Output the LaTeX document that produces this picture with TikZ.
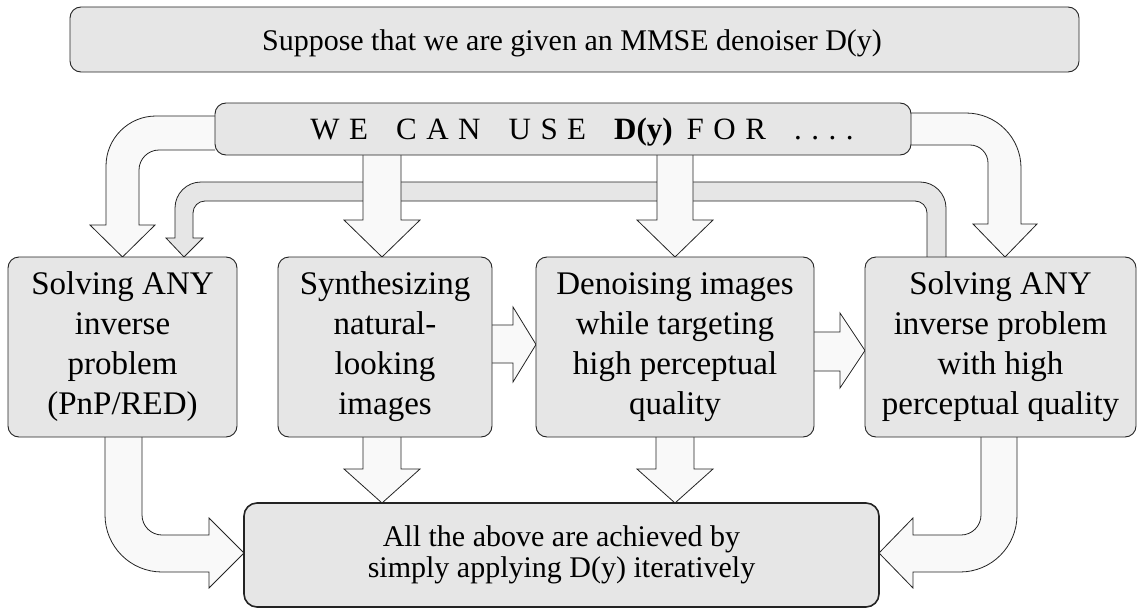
\documentclass[tikz,border=0pt]{standalone}
\usepackage{fontspec}
\setmainfont{Liberation Serif}
\definecolor{boxfill}{RGB}{230,230,230}
\definecolor{arrfill}{RGB}{249,249,249}
\definecolor{edge}{RGB}{35,35,35}
\newcommand{\lgap}{\hspace{9.5pt}}
\newcommand{\wgap}{\hspace{28pt}}
\begin{document}
\begin{tikzpicture}[x=1pt,y=-1pt,
  boxstyle/.style={draw=edge, line width=0.9pt, fill=boxfill, rounded corners=11pt, inner sep=0pt},
  blockarrow/.style={draw=edge, line width=0.8pt, fill=arrfill, line join=miter},
  greyarrow/.style={draw=edge, line width=0.8pt, fill=boxfill, line join=miter},
  boxtext/.style={align=center, font=\fontsize{33}{40}\selectfont}]
\useasboundingbox (0,0) rectangle (1137,610);

% grey feedback arrow (box 4 -> box 1), behind the vertical arrows
\draw[greyarrow] (946,257) -- (946,208) .. controls (946,193.65) and (934.35,182) .. (920,182)
  -- (201,182) .. controls (186.65,182) and (175,193.65) .. (175,208)
  -- (175,238) -- (166,238) -- (184,257) -- (203,238) -- (193,238)
  -- (193,213) .. controls (193,206.38) and (198.38,201) .. (205,201)
  -- (915,201) .. controls (921.62,201) and (927,206.38) .. (927,213) -- (927,257);

% arrows from "WE CAN USE" box
\draw[blockarrow] (363,155) -- (363,220) -- (344,220) -- (382,257) -- (420,220) -- (401,220) -- (401,155);
\draw[blockarrow] (657,155) -- (657,220) -- (637,220) -- (675,257) -- (713,220) -- (693,220) -- (693,155);
\draw[blockarrow] (215,116) -- (156,116) .. controls (128.4,116) and (106,138.4) .. (106,166)
  -- (106,225) -- (90,225) -- (122.5,257) -- (155,225) -- (139,225)
  -- (139,170) .. controls (139,159) and (148,150) .. (159,150) -- (215,150);
\draw[blockarrow] (911,113) -- (966,113) .. controls (996.4,113) and (1021,137.6) .. (1021,168)
  -- (1021,224) -- (1037,224) -- (1005,257) -- (973,224) -- (988,224)
  -- (988,163) .. controls (988,153.06) and (979.94,145) .. (970,145) -- (911,145);

% horizontal arrows between boxes
\draw[blockarrow] (492,325) -- (513,325) -- (513,307) -- (536,344.5) -- (513,382) -- (513,363) -- (492,363);
\draw[blockarrow] (814,332) -- (840,332) -- (840,313) -- (865,350.5) -- (840,388) -- (840,371) -- (814,371);

% arrows to the bottom box
\draw[blockarrow] (363,437) -- (363,469) -- (344,469) -- (382,503) -- (420,469) -- (401,469) -- (401,437);
\draw[blockarrow] (656,437) -- (656,469) -- (637,469) -- (675,503) -- (713,469) -- (694,469) -- (694,437);
\draw[blockarrow] (105,437) -- (105,515) .. controls (105,546.5) and (130.5,572) .. (162,572)
  -- (209,572) -- (209,588) -- (244,553) -- (209,518) -- (209,535)
  -- (162,535) .. controls (151,535) and (142,526) .. (142,515) -- (142,437);
\draw[blockarrow] (1017,437) -- (1017,515) .. controls (1017,546.5) and (991.5,572) .. (960,572)
  -- (913,572) -- (913,588) -- (879,553) -- (913,518) -- (913,535)
  -- (961,535) .. controls (972,535) and (981,526) .. (981,515) -- (981,437);

% boxes
\node[boxstyle, minimum width=1009pt, minimum height=65pt] (top) at (574.5,39.5) {};
\node[anchor=base, font=\fontsize{30}{36}\selectfont] (toptext) at (572,51) {Suppose that we are given an MMSE denoiser D(y)};

\node[boxstyle, minimum width=696pt, minimum height=52pt] (we) at (563,129) {};
\node[anchor=base, font=\fontsize{31}{36}\selectfont] (wetext) at (582,139)
  {W\lgap E\wgap C\lgap A\lgap N\wgap U\lgap S\lgap E\wgap \textbf{D(y)}\hspace{14pt}F\lgap O\lgap R\wgap .\lgap .\lgap .\lgap .};

\node[boxstyle, boxtext, minimum width=229pt, minimum height=180pt] (b1) at (122.5,347) {Solving ANY\\inverse\\problem\\(PnP/RED)};
\node[boxstyle, boxtext, minimum width=214pt, minimum height=180pt] (b2) at (385,347) {Synthesizing\\natural-\\looking\\images};
\node[boxstyle, boxtext, minimum width=278pt, minimum height=180pt] (b3) at (675,347) {Denoising images\\while targeting\\high perceptual\\quality};
\node[boxstyle, boxtext, minimum width=271pt, minimum height=180pt] (b4) at (1000.5,347) {Solving ANY\\inverse problem\\with high\\perceptual quality};

\node[boxstyle, line width=1.6pt, rounded corners=13pt, minimum width=635pt, minimum height=104pt,
  align=center, font=\fontsize{30}{31}\selectfont] (bot) at (561.5,555)
  {All the above are achieved by\\simply applying D(y) iteratively};
\end{tikzpicture}
\end{document}
